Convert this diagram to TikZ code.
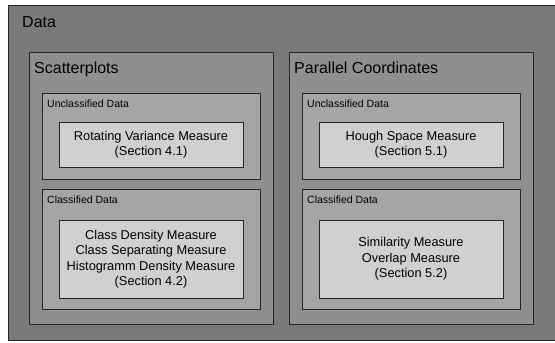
\documentclass[tikz,border=0pt]{standalone}
\usepackage{fontspec}
\setmainfont{Liberation Sans}
\usetikzlibrary{positioning,shadows}
\definecolor{dataFill}{RGB}{122,122,122}
\definecolor{viewFill}{RGB}{143,143,143}
\definecolor{classFill}{RGB}{165,165,165}
\definecolor{measureFill}{RGB}{208,208,208}
\newcommand{\bigfont}{\fontsize{16}{19}\selectfont}
\newcommand{\smallfont}{\fontsize{10.5}{12}\selectfont}
\newcommand{\midfont}{\fontsize{12.8}{15.5}\selectfont}

\begin{document}
\begin{tikzpicture}[x=1pt,y=-1pt,
    panel/.style={draw=black!85, line width=0.7pt, anchor=north west, inner sep=0pt,
      drop shadow={opacity=0.35, shadow xshift=0.8pt, shadow yshift=-0.8pt}},
    databox/.style={panel, fill=dataFill},
    viewbox/.style={panel, fill=viewFill},
    classbox/.style={panel, fill=classFill},
    measure/.style={panel, fill=measureFill, anchor=center, align=center, font=\midfont},
    title/.style={anchor=base west, inner sep=0pt}]
      \useasboundingbox (0,0) rectangle (555,343);

      \node[databox, minimum width=560pt, minimum height=335pt] (data) at (8,5) {};
      \node[title, font=\bigfont] (dataLabel) at (22,27) {Data};

      \node[viewbox, minimum width=244pt, minimum height=272pt] (scatter) at (29,52) {};
      \node[title, font=\bigfont] (scatterLabel) at (34,73) {Scatterplots};
      \node[viewbox, minimum width=244pt, minimum height=272pt] (parallel) at (289,52) {};
      \node[title, font=\bigfont] (parallelLabel) at (294,73) {Parallel Coordinates};

      \node[classbox, minimum width=218pt, minimum height=86pt] (scatterUnc) at (42,93) {};
      \node[title, font=\smallfont] (scatterUncLabel) at (47,107) {Unclassified Data};
      \node[classbox, minimum width=218pt, minimum height=120pt] (scatterCls) at (42,189) {};
      \node[title, font=\smallfont] (scatterClsLabel) at (47,203) {Classified Data};

      \node[classbox, minimum width=218pt, minimum height=86pt] (parallelUnc) at (302,93) {};
      \node[title, font=\smallfont] (parallelUncLabel) at (307,107) {Unclassified Data};
      \node[classbox, minimum width=218pt, minimum height=120pt] (parallelCls) at (302,189) {};
      \node[title, font=\smallfont] (parallelClsLabel) at (307,203) {Classified Data};

      \node[measure, minimum width=184pt, minimum height=45pt] (rotVar) at (151,144.5) {Rotating Variance Measure\\(Section 4.1)};
      \node[measure, minimum width=184pt, minimum height=78pt] (classDens) at (151,259) {Class Density Measure\\Class Separating Measure\\Histogramm Density Measure\\(Section 4.2)};
      \node[measure, minimum width=184pt, minimum height=45pt] (hough) at (411,144.5) {Hough Space Measure\\(Section 5.1)};
      \node[measure, minimum width=184pt, minimum height=78pt] (similarity) at (411,259) {Similarity Measure\\Overlap Measure\\(Section 5.2)};
    \end{tikzpicture}
\end{document}
